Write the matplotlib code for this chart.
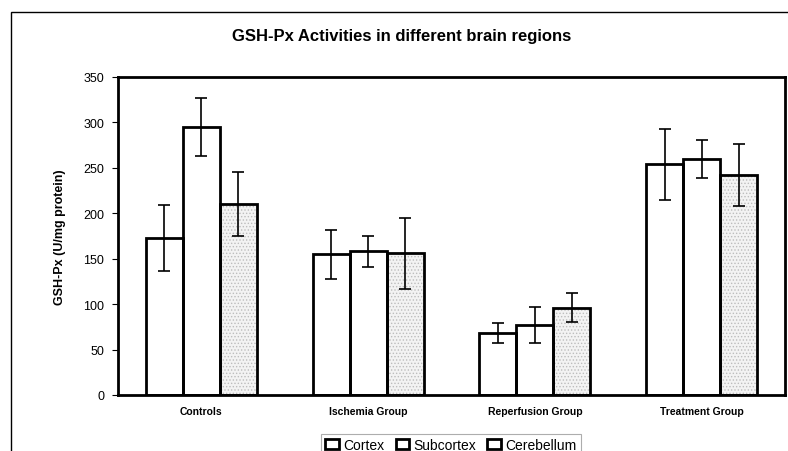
import matplotlib
matplotlib.use('Agg')
import matplotlib.pyplot as plt
from matplotlib.patches import Rectangle
import numpy as np

groups = ['Controls', 'Ischemia Group', 'Reperfusion Group', 'Treatment Group']
series = ['Cortex', 'Subcortex', 'Cerebellum']
cortex = [173, 155, 68, 254]
subcortex = [295, 158, 77, 260]
cerebellum = [210, 156, 96, 242]
cortex_err = [36, 27, 11, 39]
subcortex_err = [32, 17, 20, 21]
cerebellum_err = [35, 39, 16, 34]
yticks = [0, 50, 100, 150, 200, 250, 300, 350]

plt.rcParams['font.family'] = ['Liberation Sans', 'DejaVu Sans']
plt.rcParams['hatch.linewidth'] = 0.6

fig = plt.figure(figsize=(7.88, 4.52), dpi=100)
ax = fig.add_axes([118/788, 56/452, 667/788, 318/452])

# outer frame of the original chart area
fig.patches.append(Rectangle((11/788, -0.1), 1.2, 1 - 13/452 + 0.1, transform=fig.transFigure,
                             fill=False, edgecolor='black', linewidth=1.0, clip_on=False))

x = np.arange(len(groups))
w = 0.222
vals = [cortex, subcortex, cerebellum]
errs = [cortex_err, subcortex_err, cerebellum_err]
for i, (v, e) in enumerate(zip(vals, errs)):
    pos = x + (i - 1) * w
    if i == 2:
        # stippled fill
        ax.bar(pos, v, w, color='#f3f3f3', edgecolor='#bdbdbd', hatch='.....', linewidth=0, zorder=2)
    else:
        ax.bar(pos, v, w, color='white', linewidth=0, zorder=2)
    ax.bar(pos, v, w, fill=False, edgecolor='black', linewidth=2, zorder=3)
    ax.errorbar(pos, v, yerr=e, fmt='none', ecolor='black', elinewidth=1.2,
                capsize=4, capthick=1.2, zorder=4)

ax.set_xlim(-0.5, 3.5)
ax.set_ylim(0, 350)
ax.set_yticks(yticks)
ax.set_yticklabels([str(t) for t in yticks], fontsize=9)
ax.set_xticks(x)
ax.set_xticklabels(groups, fontsize=7.5, fontweight='bold')
ax.tick_params(axis='x', length=0, pad=8)
ax.tick_params(axis='y', length=4, width=0.8, pad=6)
for s in ax.spines.values():
    s.set_linewidth(2)

ax.set_ylabel('GSH-Px (U/mg protein)', fontsize=9, fontweight='bold', labelpad=12)
fig.text(402/788, 1 - 36/452, 'GSH-Px Activities in different brain regions',
         ha='center', va='center', fontsize=12, fontweight='bold')

handles = [Rectangle((0, 0), 1, 1, facecolor='white', edgecolor='black', linewidth=2) for _ in series]
leg = fig.legend(handles, series, loc='upper center', bbox_to_anchor=(451/788, 1 - 428/452),
                 ncol=3, fontsize=10, frameon=True, fancybox=False, borderpad=0.3,
                 handlelength=1.0, handleheight=0.7, handletextpad=0.3, columnspacing=0.8)
leg.get_frame().set_edgecolor('#999999')
leg.get_frame().set_linewidth(0.8)

fig.savefig('out.png', dpi=100)
